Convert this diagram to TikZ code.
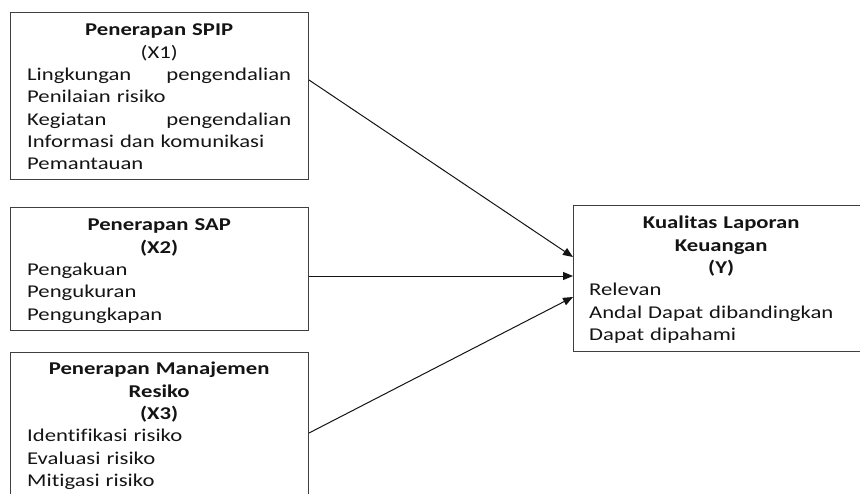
\documentclass[tikz,border=0pt]{standalone}
\usepackage{fontspec}
\setmainfont[FakeStretch=1.26, Ligatures=NoCommon]{Carlito}
\usetikzlibrary{arrows.meta,calc}
\definecolor{boxline}{HTML}{3F3F3F}
\definecolor{ink}{HTML}{141414}

\begin{document}
\begin{tikzpicture}[x=1pt, y=-1pt,
    box/.style={draw=boxline, line width=1pt, inner sep=0pt, anchor=north west},
    body/.style={inner sep=0pt, anchor=north west, text width=264pt, align=left, text=ink, font=\fontsize{18}{22.3}\selectfont},
    link/.style={draw=ink, line width=1pt, -{Triangle[length=10pt,width=8pt]}}]
  \useasboundingbox (0,0) rectangle (860,493);
  \node (x1) [box, minimum width=298pt, minimum height=167pt] at (10,12) {};
  \node (x2) [box, minimum width=298pt, minimum height=123pt] at (10,207) {};
  \node (x3) [box, minimum width=298pt, minimum height=160pt] at (10,352) {};
  \node (y)  [box, minimum width=296pt, minimum height=146pt] at (573,205) {};
  \node (x1text) [body] at ($(x1.north west)+(17,8)$) {\strut\makebox[\linewidth]{\textbf{Penerapan SPIP}}\\
    \makebox[\linewidth]{(X1)}\\
    \makebox[\linewidth]{Lingkungan\hfill pengendalian}\\
    Penilaian risiko\\
    \makebox[\linewidth]{Kegiatan\hfill pengendalian}\\
    Informasi dan komunikasi\\
    Pemantauan};
  \node (x2text) [body] at ($(x2.north west)+(17,8)$) {\strut\makebox[\linewidth]{\textbf{Penerapan SAP}}\\
    \makebox[\linewidth]{\textbf{(X2)}}\\
    Pengakuan\\
    Pengukuran\\
    Pengungkapan};
  \node (x3text) [body] at ($(x3.north west)+(17,7)$) {\strut\makebox[\linewidth]{\textbf{Penerapan Manajemen}}\\
    \makebox[\linewidth]{\textbf{Resiko}}\\
    \makebox[\linewidth]{\textbf{(X3)}}\\
    Identifikasi risiko\\
    Evaluasi risiko\\
    Mitigasi risiko};
  \node (ytext) [body] at ($(y.north west)+(16,8)$) {\strut\makebox[\linewidth]{\textbf{Kualitas Laporan}}\\
    \makebox[\linewidth]{\textbf{Keuangan}}\\
    \makebox[\linewidth]{\textbf{(Y)}}\\
    Relevan\\
    Andal Dapat dibandingkan\\
    Dapat dipahami};
  \draw [link] ($(x1.north east)+(0,68)$) -- ($(y.north west)+(0,52)$);
  \draw [link] ($(x2.north east)+(0,69)$) -- ($(y.north west)+(0,71)$);
  \draw [link] ($(x3.north east)+(0,81)$) -- ($(y.north west)+(0,92)$);
\end{tikzpicture}
\end{document}
